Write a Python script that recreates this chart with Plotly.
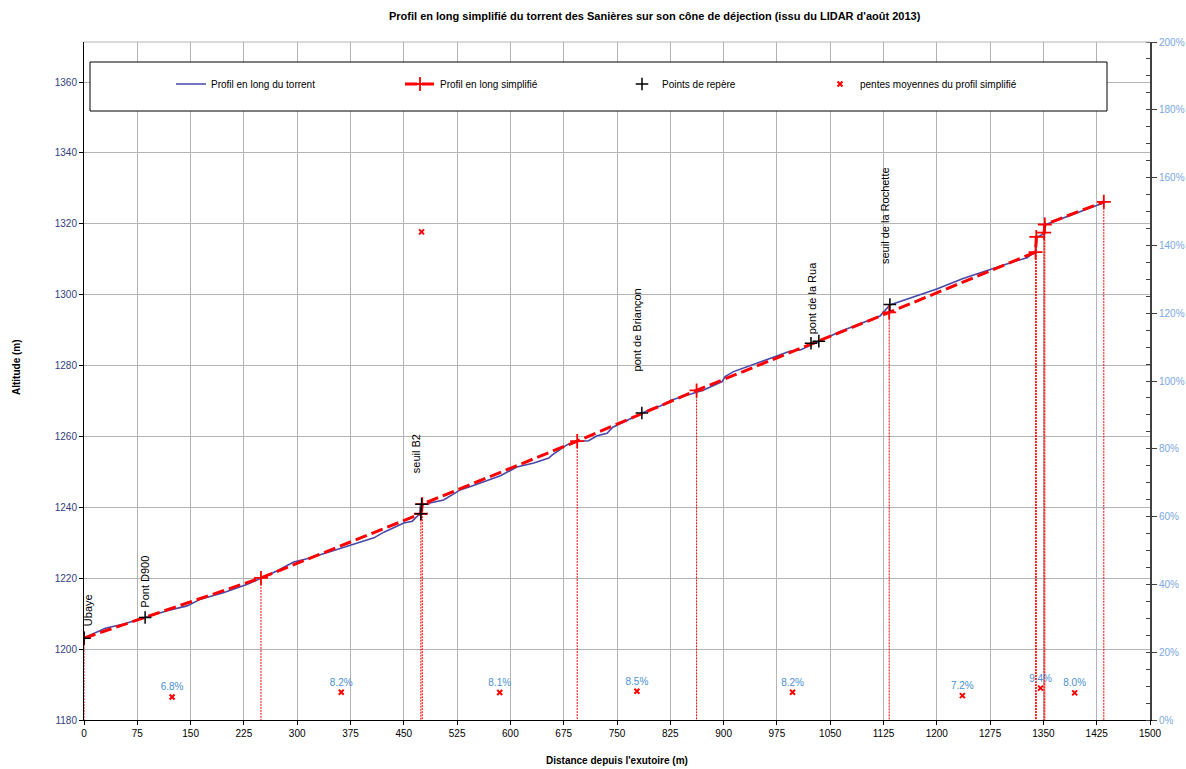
import plotly.graph_objects as go

# ---------------- data ----------------
profile_x = [0, 30, 56, 86, 117, 145, 164, 197, 230, 248, 272, 295, 314, 337, 375, 408, 422, 450, 462, 469,
             472.5, 473.5, 492, 506, 530, 544, 586, 609, 633, 654, 659, 680, 694, 710, 722, 736, 744, 764, 785,
             797, 811, 827, 853, 872, 898, 902, 914, 942, 980, 994, 1008, 1022, 1036, 1064, 1090, 1120, 1134,
             1167, 1200, 1237, 1275, 1308, 1327, 1339, 1341, 1350, 1352, 1383, 1411, 1436]
profile_y = [1203.2, 1205.9, 1207.1, 1209.0, 1210.8, 1212.2, 1214.1, 1216.0, 1218.3, 1219.9, 1222.1, 1224.6,
             1225.5, 1226.9, 1229.3, 1231.4, 1233.0, 1235.6, 1236.1, 1237.5, 1238.2, 1240.7, 1241.4, 1242.1,
             1245.0, 1245.9, 1248.9, 1251.4, 1252.5, 1253.9, 1254.8, 1257.7, 1258.6, 1258.8, 1260.2, 1260.9,
             1262.6, 1264.5, 1266.6, 1267.7, 1268.6, 1270.3, 1271.9, 1273.1, 1275.5, 1276.9, 1278.3, 1280.4,
             1283.2, 1284.1, 1284.4, 1285.8, 1287.0, 1289.6, 1291.6, 1294.0, 1297.1, 1299.3, 1301.6, 1304.6,
             1307.2, 1309.3, 1310.4, 1312.2, 1316.2, 1317.1, 1319.7, 1322.0, 1324.2, 1326.0]

simpl_x = [0, 249, 474, 476, 694, 862, 1133, 1339, 1340, 1351, 1352, 1435]
simpl_y = [1203.1, 1220.1, 1238.2, 1240.9, 1258.7, 1273.0, 1295.0, 1312.0, 1316.3, 1317.5, 1319.8, 1326.2]

landmark_x = [0, 86, 474, 475, 785, 1023, 1034, 1134]
landmark_y = [1203.1, 1208.9, 1238.2, 1240.9, 1266.6, 1286.3, 1286.9, 1297.2]
landmark_names = ["Ubaye", "Pont D900", "", "seuil B2", "pont de Briançon", "pont de la Rua", "",
                  "seuil de la Rochette"]

slope_x = [124, 362, 475, 585, 778, 997, 1236, 1346, 1394]
slope_val = [0.068, 0.082, 1.44, 0.081, 0.085, 0.082, 0.072, 0.094, 0.080]
slope_text = ["6.8%", "8.2%", "", "8.1%", "8.5%", "8.2%", "7.2%", "9.4%", "8.0%"]

x_ticks = list(range(0, 1501, 75))
y_min, y_max = 1180, 1371.3
y2_min, y2_max = 0, 2.0

title_text = "Profil en long simplifié du torrent des Sanières sur son cône de déjection (issu du LIDAR d'août 2013)"

# ---------------- styling ----------------
W, H = 1186, 769
PLOT_L, PLOT_R, PLOT_T, PLOT_B = 84, 1150, 42, 720   # page pixels
L, T = PLOT_L, PLOT_T
R, B = W - PLOT_R, H - PLOT_B
PW, PH = PLOT_R - PLOT_L, PLOT_B - PLOT_T
FONT = "Liberation Sans, Arial, sans-serif"
NARROW = "Liberation Sans Narrow, Arial Narrow, Liberation Sans, Arial, sans-serif"

def px_x(p):
    return (p - PLOT_L) / PW

def px_y(p):
    return (PLOT_B - p) / PH

# label pixel offsets (dx, gap above point)
label_offsets = {"Ubaye": (4, 10), "Pont D900": (-1, 8), "seuil B2": (-6, 29),
                 "pont de Briançon": (-5, 40), "pont de la Rua": (1, 7), "seuil de la Rochette": (-5, 39)}

fig = go.Figure()

# drop lines from breakpoints to the axis
drop_x, drop_y = [], []
for xv, yv in zip(simpl_x, simpl_y):
    drop_x += [xv, xv, None]
    drop_y += [yv, y_min, None]
fig.add_trace(go.Scatter(x=drop_x, y=drop_y, mode="lines", showlegend=False, hoverinfo="skip",
                         line=dict(color="#ff0000", width=1, dash="2px,1px")))

fig.add_trace(go.Scatter(x=profile_x, y=profile_y, mode="lines", name="Profil en long du torrent",
                         line=dict(color="#4848a8", width=1.6), legend="legend"))

fig.add_trace(go.Scatter(x=simpl_x, y=simpl_y, mode="lines+markers", name="Profil en long simplifié",
                         line=dict(color="#ff0000", width=3, dash="12px,5px"),
                         marker=dict(symbol="cross-thin", size=10, line=dict(color="#ff0000", width=1.8)),
                         legend="legend2"))

fig.add_trace(go.Scatter(x=landmark_x, y=landmark_y, mode="markers", name="Points de repère",
                         marker=dict(symbol="cross-thin", size=9, color="black", line=dict(color="black", width=1.5)),
                         legend="legend3"))

fig.add_trace(go.Scatter(x=slope_x, y=slope_val, mode="markers+text", name="pentes moyennes du profil simplifié",
                         text=slope_text, textposition="top center",
                         textfont=dict(family=FONT, size=10, color="#4a90d6"),
                         marker=dict(symbol="x-thin", size=5, color="#ff0000", line=dict(color="#ff0000", width=2)),
                         yaxis="y2", legend="legend4"))

annotations = []
for xv, yv, name in zip(landmark_x, landmark_y, landmark_names):
    if not name:
        continue
    dx, gap = label_offsets[name]
    annotations.append(dict(x=xv, y=yv, xref="x", yref="y", text=name, showarrow=False, textangle=-90,
                            xanchor="center", yanchor="bottom", xshift=dx, yshift=gap,
                            font=dict(family=FONT, size=11, color="black")))

annotations += [
    dict(x=px_x(655), y=px_y(16), xref="paper", yref="paper", text="<b>" + title_text + "</b>",
         showarrow=False, xanchor="center", yanchor="middle", font=dict(family=FONT, size=11, color="black")),
    dict(x=px_x(617), y=px_y(760), xref="paper", yref="paper", text="<b>Distance depuis l'exutoire (m)</b>",
         showarrow=False, xanchor="center", yanchor="middle", font=dict(family=FONT, size=10, color="black")),
    dict(x=px_x(16), y=px_y(367), xref="paper", yref="paper", text="<b>Altitude (m)</b>", textangle=-90,
         showarrow=False, xanchor="center", yanchor="middle", font=dict(family=FONT, size=10, color="black")),
]

shapes = [
    dict(type="rect", xref="paper", yref="paper", x0=px_x(90), x1=px_x(1107), y0=px_y(111), y1=px_y(62),
         fillcolor="white", line=dict(color="black", width=1), layer="above"),
    dict(type="line", xref="paper", yref="paper", x0=0, x1=1, y0=1, y1=1, line=dict(color="#b4b4b4", width=1)),
]

def legend_at(px_left):
    return dict(x=px_x(px_left), y=px_y(84), xanchor="left", yanchor="middle", orientation="h",
                bgcolor="rgba(0,0,0,0)", borderwidth=0, font=dict(family=NARROW, size=10, color="black"))

fig.update_layout(
    width=W, height=H, margin=dict(l=L, r=R, t=T, b=B, autoexpand=False),
    paper_bgcolor="white", plot_bgcolor="white",
    showlegend=True,
    legend=legend_at(171), legend2=legend_at(400), legend3=legend_at(622), legend4=legend_at(820),
    xaxis=dict(range=[0, 1500], tickvals=x_ticks, showgrid=True, gridcolor="#b4b4b4", gridwidth=1,
               zeroline=False, showline=True, linecolor="black", linewidth=1, ticks="outside", ticklen=4,
               tickcolor="black", tickfont=dict(family=NARROW, size=10, color="black")),
    yaxis=dict(range=[y_min, y_max], dtick=20, tick0=1180, showgrid=True, gridcolor="#b4b4b4", gridwidth=1,
               zeroline=False, showline=True, linecolor="black", linewidth=1, ticks="outside", ticklen=4,
               tickcolor="black", tickfont=dict(family=FONT, size=10, color="#34407e")),
    yaxis2=dict(range=[y2_min, y2_max], dtick=0.2, tick0=0, tickformat=".0%", overlaying="y", side="right",
                showgrid=False, zeroline=False, showline=True, linecolor="#404040", linewidth=2,
                ticks="outside", ticklen=5, tickcolor="#404040",
                minor=dict(dtick=0.05, ticks="inside", ticklen=4, tickcolor="#404040", showgrid=False),
                tickfont=dict(family=FONT, size=10, color="#7ba7e3")),
    annotations=annotations,
    shapes=shapes,
)

fig.write_html("out.html", config={"displayModeBar": False},
               post_script="document.body.style.margin='0px';document.body.style.overflow='hidden';")
